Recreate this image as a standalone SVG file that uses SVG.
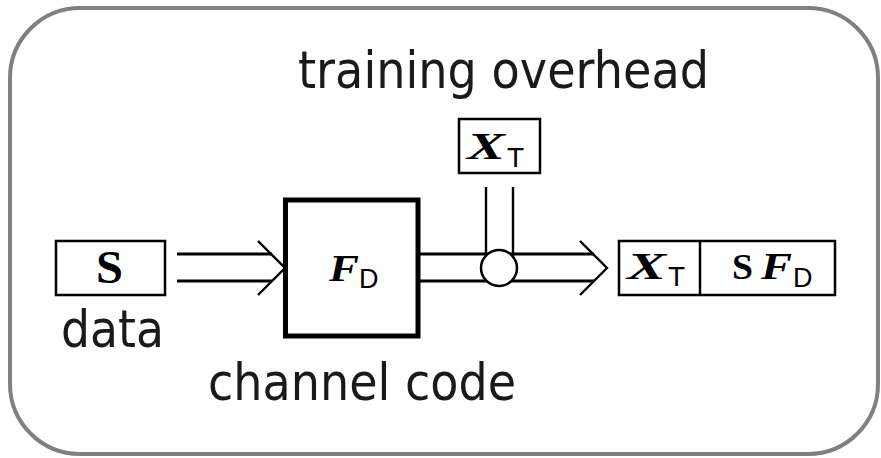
<svg xmlns="http://www.w3.org/2000/svg" width="881" height="458" viewBox="0 0 881 458">
  <style>
    .frame { fill: #ffffff; stroke: #808080; stroke-width: 4; }
    .box { fill: #ffffff; stroke: #000000; stroke-width: 2.5; }
    .thick { fill: #ffffff; stroke: #000000; stroke-width: 5; }
    .rail { fill: none; stroke: #000000; stroke-width: 3.2; }
    .thin { fill: none; stroke: #000000; stroke-width: 2.4; }
    .head { fill: none; stroke: #000000; stroke-width: 2.4; stroke-linejoin: miter; }
    .label { font-family: "DejaVu Sans", "Liberation Sans", sans-serif; font-size: 52px; fill: #1a1a1a; }
    .mi { font-family: "Liberation Serif", "DejaVu Serif", serif; font-weight: bold; font-style: italic; fill: #000000; }
    .mb { font-family: "Liberation Serif", "DejaVu Serif", serif; font-weight: bold; fill: #000000; }
    .sub { font-family: "Liberation Sans", "DejaVu Sans", sans-serif; fill: #000000; }
  </style>

  <!-- outer frame -->
  <rect class="frame" x="10" y="8" width="868" height="446" rx="70" ry="70"/>

  <!-- labels -->
  <text class="label" x="298" y="88" textLength="411" lengthAdjust="spacingAndGlyphs">training overhead</text>
  <text class="label" x="61" y="347" textLength="103" lengthAdjust="spacingAndGlyphs">data</text>
  <text class="label" x="208" y="400" textLength="308" lengthAdjust="spacingAndGlyphs">channel code</text>

  <!-- connectors -->
  <g id="connectors">
    <!-- data -> channel code -->
    <line class="rail" x1="177" y1="254" x2="272" y2="254"/>
    <line class="rail" x1="177" y1="281" x2="272" y2="281"/>
    <polyline class="head" points="258,241 285,268 258,295"/>
    <!-- channel code -> output -->
    <line class="rail" x1="419" y1="254" x2="594" y2="254"/>
    <line class="rail" x1="419" y1="281" x2="594" y2="281"/>
    <polyline class="head" points="580,241 607,268 580,295"/>
    <!-- training feed -->
    <line class="thin" x1="486" y1="187" x2="486" y2="258"/>
    <line class="thin" x1="513" y1="187" x2="513" y2="258"/>
  </g>

  <!-- multiplexer -->
  <g id="mux">
    <circle class="box" cx="499" cy="268" r="18" stroke-width="2.4"/>
  </g>

  <!-- data block S -->
  <g id="node-s">
    <rect class="box" x="56" y="241" width="109" height="54"/>
    <text class="mb" x="96" y="283" font-size="46" textLength="27" lengthAdjust="spacingAndGlyphs">S</text>
  </g>

  <!-- channel code F_D -->
  <g id="node-fd">
    <rect class="thick" x="285.5" y="200" width="132.5" height="136"/>
    <text class="mi" x="329" y="281" font-size="37" textLength="30" lengthAdjust="spacingAndGlyphs">F</text>
    <text class="sub" x="359" y="288" font-size="27">D</text>
  </g>

  <!-- training block X_T -->
  <g id="node-xt">
    <rect class="box" x="459" y="119" width="81" height="54"/>
    <text class="mi" x="467" y="159" font-size="37" textLength="38" lengthAdjust="spacingAndGlyphs">X</text>
    <text class="sub" x="507" y="167" font-size="28">T</text>
  </g>

  <!-- transmitted frame [X_T | S F_D] -->
  <g id="node-frame">
    <rect class="box" x="619" y="241" width="216" height="54"/>
    <line class="box" x1="700" y1="241" x2="700" y2="295"/>
    <text class="mi" x="627" y="279" font-size="37" textLength="39" lengthAdjust="spacingAndGlyphs">X</text>
    <text class="sub" x="668" y="286" font-size="28">T</text>
    <text class="mb" x="732" y="279" font-size="36" textLength="21" lengthAdjust="spacingAndGlyphs">S</text>
    <text class="mi" x="761" y="279" font-size="37" textLength="31" lengthAdjust="spacingAndGlyphs">F</text>
    <text class="sub" x="793" y="287" font-size="27">D</text>
  </g>
</svg>
